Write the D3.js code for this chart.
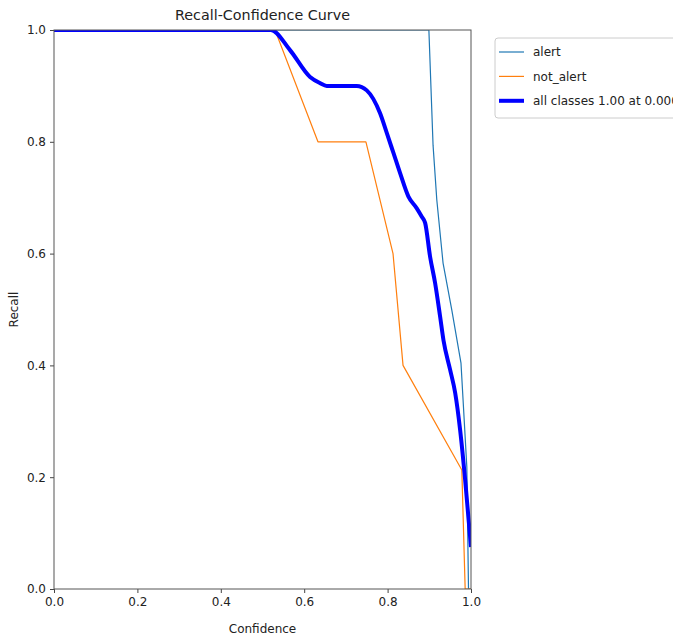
<!DOCTYPE html>
<html>
<head>
<meta charset="utf-8">
<script src="https://cdn.jsdelivr.net/npm/d3@7"></script>
<style>
  body { margin: 0; background: #fff; }
  svg { display: block; font-family: "DejaVu Sans", sans-serif; }
</style>
</head>
<body>
<div id="chart"></div>
<script>
var width = 673,
height = 640;

// Data
var alertConf = [0, 0.899, 0.909, 0.918, 0.933, 0.954, 0.976, 0.981, 0.990, 0.994, 1.0]
var alertRecall = [1, 1, 0.794, 0.696, 0.583, 0.499, 0.404, 0.338, 0.218, 0, 0]

var notAlertConf = [0, 0.53, 0.633, 0.748, 0.813, 0.837, 0.978, 0.986, 1.0]
var notAlertRecall = [1, 1, 0.8, 0.8, 0.6, 0.4, 0.213, 0, 0]

var allConf = [0, 0.52, 0.566, 0.614, 0.638, 0.654, 0.726, 0.750, 0.782, 0.798, 0.814, 0.830, 0.850, 0.870, 0.882, 0.890, 0.902, 0.914, 0.926, 0.934, 0.950, 0.962, 0.974, 0.986, 1.0]
var allRecall = [1, 1, 0.964, 0.916, 0.905, 0.9, 0.9, 0.892, 0.851, 0.816, 0.780, 0.744, 0.702, 0.681, 0.666, 0.655, 0.594, 0.547, 0.487, 0.445, 0.392, 0.351, 0.284, 0.195, 0.075]

var seriesNames = ["alert", "not_alert", "all classes 1.00 at 0.000"]
var seriesColors = ["#1f77b4", "#ff7f0e", "#0000ff"]
var seriesWidths = [1.2, 1.2, 4]
var ticks = [0, 0.2, 0.4, 0.6, 0.8, 1.0]

// plot box (top is a reserved window name, so use pTop etc)
var pLeft = 54, pRight = 471, pTop = 30, pBottom = 589

var svg = d3.select("#chart").append("svg")
.attr("width", width)
.attr("height", height)

var x = d3.scaleLinear().domain([0, 1]).range([pLeft, pRight])
var y = d3.scaleLinear().domain([0, 1]).range([pBottom, pTop])

svg.append("defs").append("clipPath").attr("id", "plotclip")
.append("rect")
.attr("x", pLeft).attr("y", pTop)
.attr("width", pRight - pLeft).attr("height", pBottom - pTop)

function pairs(xs, ys) {
    return xs.map(function (c, i) { return [c, ys[i]] })
}

var series = [
    pairs(alertConf, alertRecall),
    pairs(notAlertConf, notAlertRecall),
    pairs(allConf, allRecall)
]

var line = d3.line()
.x(function (d) { return x(d[0]) })
.y(function (d) { return y(d[1]) })

var smooth = d3.line()
.x(function (d) { return x(d[0]) })
.y(function (d) { return y(d[1]) })
.curve(d3.curveMonotoneX)

svg.append("g")
.attr("clip-path", "url(#plotclip)")
.selectAll("path")
.data(series)
.join("path")
.attr("d", function (d, i) { return i === 2 ? smooth(d) : line(d) })
.attr("fill", "none")
.attr("stroke", function (d, i) { return seriesColors[i] })
.attr("stroke-width", function (d, i) { return seriesWidths[i] })
.attr("stroke-linejoin", "round")

// axes
var xAxis = svg.append("g")
.attr("transform", "translate(0," + pBottom + ")")
.call(d3.axisBottom(x).tickValues(ticks).tickFormat(d3.format(".1f")).tickSize(4).tickPadding(4))
var yAxis = svg.append("g")
.attr("transform", "translate(" + pLeft + ",0)")
.call(d3.axisLeft(y).tickValues(ticks).tickFormat(d3.format(".1f")).tickSize(4).tickPadding(4))

;[xAxis, yAxis].forEach(function (g) {
    g.select(".domain").remove()
    g.selectAll("line").attr("stroke", "#444")
    g.selectAll("text")
    .attr("font-family", "DejaVu Sans, sans-serif")
    .attr("font-size", 12)
    .attr("fill", "#222")
})

// frame
svg.append("rect")
.attr("x", pLeft).attr("y", pTop)
.attr("width", pRight - pLeft).attr("height", pBottom - pTop)
.attr("fill", "none")
.attr("stroke", "#555")
.attr("stroke-width", 1)

// titles
svg.append("text")
.attr("x", (pLeft + pRight) / 2)
.attr("y", 20)
.attr("text-anchor", "middle")
.attr("font-size", 14.3)
.attr("fill", "#222")
.text("Recall-Confidence Curve")

svg.append("text")
.attr("x", (pLeft + pRight) / 2)
.attr("y", 633)
.attr("text-anchor", "middle")
.attr("font-size", 12)
.attr("fill", "#222")
.text("Confidence")

svg.append("text")
.attr("transform", "translate(18," + ((pTop + pBottom) / 2) + ") rotate(-90)")
.attr("text-anchor", "middle")
.attr("font-size", 12)
.attr("fill", "#222")
.text("Recall")

// legend
var legend = svg.append("g")
legend.append("rect")
.attr("x", 495).attr("y", 38)
.attr("width", 220).attr("height", 80)
.attr("rx", 3)
.attr("fill", "#fff")
.attr("stroke", "#ccc")

var items = legend.selectAll("g.item")
.data(seriesNames)
.join("g")
.attr("class", "item")
.attr("transform", function (d, i) { return "translate(0," + (52 + i * 24.4) + ")" })

items.append("line")
.attr("x1", 499).attr("x2", 524)
.attr("stroke", function (d, i) { return seriesColors[i] })
.attr("stroke-width", function (d, i) { return seriesWidths[i] })

items.append("text")
.attr("x", 533)
.attr("dy", "0.35em")
.attr("font-size", 12)
.attr("fill", "#222")
.text(function (d) { return d })
</script>
</body>
</html>
